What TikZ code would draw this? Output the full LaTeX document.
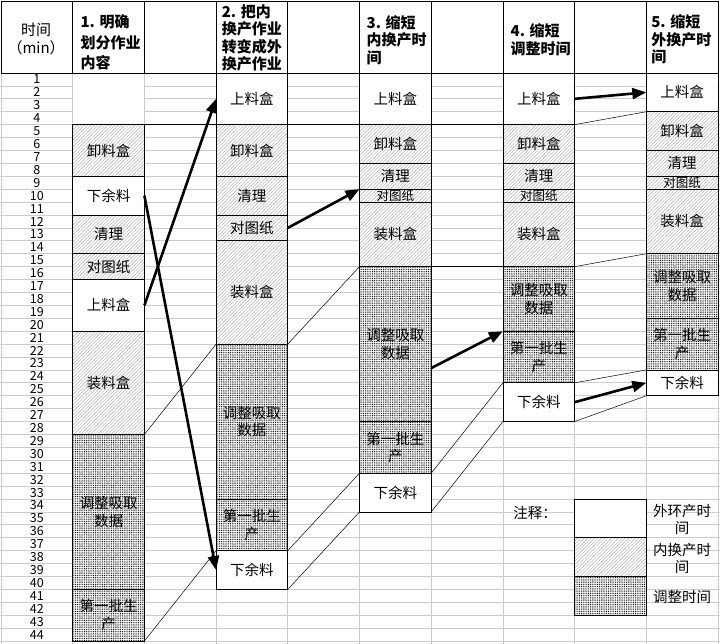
\documentclass[tikz,border=0pt]{standalone}
\usepackage{fontspec}
\setmainfont{Noto Sans CJK SC}
\usetikzlibrary{arrows.meta}
\usetikzlibrary{patterns.meta}
\tikzset{
    every node/.append style={font=\fontsize{14.5}{17.5}\selectfont},
    grid/.style={gray!40, line width=0.8pt},
    box/.style={draw, line width=0.8pt, inner sep=0pt, outer sep=0pt,
        minimum width=71.7pt, anchor=north west, align=center},
    nrows/.style={minimum height=#1*12.91pt},
    ext/.style={box, fill=white},
    int/.style={box, preaction={fill=white},
        pattern={Lines[angle=45,distance=2.4pt,line width=0.45pt]}, pattern color=gray!65},
    adj/.style={box, preaction={fill=white},
        pattern={Dots[distance=1.8pt,radius=0.55pt]}, pattern color=black},
    small/.style={font=\fontsize{12.5}{12.5}\selectfont},
    num/.style={font=\fontsize{12.5}{12.5}\selectfont},
    head/.style={anchor=west, align=left, font=\bfseries\fontsize{15}{17.5}\selectfont},
    link/.style={line width=0.5pt},
    arrow/.style={line width=2.6pt, -{Triangle[length=14pt,width=11pt]}},
}

\begin{document}
\begin{tikzpicture}
  \useasboundingbox (0,0) rectangle (720pt,-644pt);
  \begin{scope}[x=71.7pt, y=-12.91pt, shift={(1pt,-60.09pt)}]
      % grid
      \foreach \r in {2,...,45}
          \draw[grid] (-0.1,\r) -- (10.1,\r);
      \fill[white] (1,1) rectangle (2,5);
      \foreach \c in {0,...,10}
          \draw[grid] (\c,1) -- (\c,45.3);
      \draw[line width=0.8pt] (0,-4.54) rectangle (10,1);
      \foreach \c in {1,...,9}
          \draw[line width=0.8pt] (\c,-4.54) -- (\c,1);

      % header
      \node[align=center, font=\fontsize{15}{18}\selectfont] (h0) at (0.49,-1.63) {时间\\（min）};
      \node[head, font=\bfseries\fontsize{15}{20.5}\selectfont] (h1) at (1.06,-1.36) {1. 明确\\划分作业\\内容};
      \node[head] (h3) at (3.03,-1.71) {2. 把内\\换产作业\\转变成外\\换产作业};
      \node[head] (h5) at (5.05,-1.56) {3. 缩短\\内换产时\\间};
      \node[head] (h7) at (7.06,-1.59) {4. 缩短\\调整时间};
      \node[head] (h9) at (9.02,-1.59) {5. 缩短\\外换产时\\间};

      % row numbers
      \foreach \r in {1,...,44}
          \node[num] (n\r) at (0.5,\r+0.5) {\r};

      % column 1
      \node[int, nrows=4] (xlh1) at (1,5) {卸料盒};
      \node[ext, nrows=3] (xyl1) at (1,9) {下余料};
      \node[int, nrows=3] (ql1) at (1,12) {清理};
      \node[int, nrows=2] (dtz1) at (1,15) {对图纸};
      \node[ext, nrows=4] (slh1) at (1,17) {上料盒};
      \node[int, nrows=8] (zlh1) at (1,21) {装料盒};
      \node[adj, nrows=12] (tz1) at (1,29) {调整吸取\\数据};
      \node[adj, nrows=4] (dyp1) at (1,41) {第一批生\\产};

      % column 3
      \node[ext, nrows=4] (slh3) at (3,1) {上料盒};
      \node[int, nrows=4] (xlh3) at (3,5) {卸料盒};
      \node[int, nrows=3] (ql3) at (3,9) {清理};
      \node[int, nrows=2] (dtz3) at (3,12) {对图纸};
      \node[int, nrows=8] (zlh3) at (3,14) {装料盒};
      \node[adj, nrows=12] (tz3) at (3,22) {调整吸取\\数据};
      \node[adj, nrows=4] (dyp3) at (3,34) {第一批生\\产};
      \node[ext, nrows=3] (xyl3) at (3,38) {下余料};

      % column 5
      \node[ext, nrows=4] (slh5) at (5,1) {上料盒};
      \node[int, nrows=3] (xlh5) at (5,5) {卸料盒};
      \node[int, nrows=2] (ql5) at (5,8) {清理};
      \node[int, nrows=1, small] (dtz5) at (5,10) {对图纸};
      \node[int, nrows=5] (zlh5) at (5,11) {装料盒};
      \node[adj, nrows=12] (tz5) at (5,16) {调整吸取\\数据};
      \node[adj, nrows=4] (dyp5) at (5,28) {第一批生\\产};
      \node[ext, nrows=3] (xyl5) at (5,32) {下余料};

      % column 7
      \node[ext, nrows=4] (slh7) at (7,1) {上料盒};
      \node[int, nrows=3] (xlh7) at (7,5) {卸料盒};
      \node[int, nrows=2] (ql7) at (7,8) {清理};
      \node[int, nrows=1, small] (dtz7) at (7,10) {对图纸};
      \node[int, nrows=5] (zlh7) at (7,11) {装料盒};
      \node[adj, nrows=5] (tz7) at (7,16) {调整吸取\\数据};
      \node[adj, nrows=4] (dyp7) at (7,21) {第一批生\\产};
      \node[ext, nrows=3] (xyl7) at (7,25) {下余料};

      % column 9
      \node[ext, nrows=3] (slh9) at (9,1) {上料盒};
      \node[int, nrows=3] (xlh9) at (9,4) {卸料盒};
      \node[int, nrows=2] (ql9) at (9,7) {清理};
      \node[int, nrows=1, small] (dtz9) at (9,9) {对图纸};
      \node[int, nrows=5] (zlh9) at (9,10) {装料盒};
      \node[adj, nrows=5] (tz9) at (9,15) {调整吸取\\数据};
      \node[adj, nrows=4] (dyp9) at (9,20) {第一批生\\产};
      \node[ext, nrows=2] (xyl9) at (9,24) {下余料};

      % legend
      \node (zs) at (7.45,35.1) {注释：};
      \node[ext, nrows=3] (lg1) at (8,34) {};
      \node[int, nrows=3] (lg2) at (8,37) {};
      \node[adj, nrows=3] (lg3) at (8,40) {};
      \node[align=center] (lt1) at (9.5,35.6) {外环产时\\间};
      \node[align=center] (lt2) at (9.5,38.6) {内换产时\\间};
      \node (lt3) at (9.5,41.6) {调整时间};

      % links
      \draw[link] (xlh1.north east) -- (xlh3.north west);
      \draw[link] (zlh1.south east) -- (tz3.north west);
      \draw[link] (dyp1.south east) -- (xyl3.north west);
      \draw[link] (slh3.south east) -- (slh5.south west);
      \draw[link] (zlh3.south east) -- (tz5.north west);
      \draw[link] (xyl3.north east) -- (xyl5.north west);
      \draw[link] (xyl3.south east) -- (xyl5.south west);
      \draw[link] (slh5.south east) -- (slh7.south west);
      \draw[link] (zlh5.south east) -- (zlh7.south west);
      \draw[link] (xyl5.north east) -- (xyl7.north west);
      \draw[link] (xyl5.south east) -- (xyl7.south west);
      \draw[link] (slh7.south east) -- (slh9.south west);
      \draw[link] (zlh7.south east) -- (zlh9.south west);
      \draw[link] (dyp7.south east) -- (dyp9.south west);
      \draw[link] (xyl7.south east) -- (xyl9.south west);

      % arrows
      \draw[arrow] (slh1.east) -- (slh3.west);
      \draw[arrow] (xyl1.east) -- (xyl3.west);
      \draw[arrow] (dtz3.east) -- (dtz5.north west);
      \draw[arrow] ([yshift=-24pt]tz5.east) -- (tz7.south west);
      \draw[arrow] (slh7.east) -- (slh9.west);
      \draw[arrow] (xyl7.east) -- (xyl9.west);
  \end{scope}
\end{tikzpicture}
\end{document}
